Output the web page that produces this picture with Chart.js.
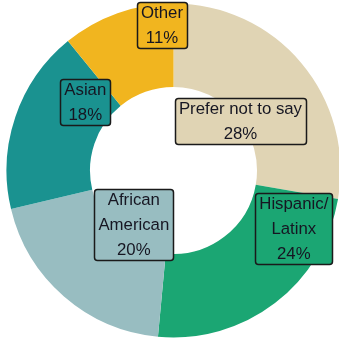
<!DOCTYPE html>
<html>
<head>
<meta charset="utf-8">
<script src="https://cdn.jsdelivr.net/npm/chart.js@4/dist/chart.umd.min.js"></script>
<style>
  html, body { margin: 0; padding: 0; background: #ffffff; overflow: hidden; }
  #wrap { position: absolute; left: 0; top: 0; width: 347px; height: 341px; }
</style>
</head>
<body>
<div id="wrap"><canvas id="c"></canvas></div>
<script>
// Survey respondents by race / ethnicity (percent)
const categories = ['Prefer not to say', 'Hispanic/Latinx', 'African American', 'Asian', 'Other'];
const categoryLines = [['Prefer not to say'], ['Hispanic/', 'Latinx'], ['African', 'American'], ['Asian'], ['Other']];
const values = [28, 24, 20, 18, 11];

const sliceColors = ['#E0D4B4', '#1BA673', '#98BDC1', '#1A9290', '#F1B51F'];

// Where each boxed label sits on its slice:
// t = fraction along the arc (start -> end), r = fraction of the outer radius
const labelAnchors = [
  { t: 0.534, r: 0.50 },
  { t: 0.187, r: 0.80 },
  { t: 0.436, r: 0.40 },
  { t: 0.80,  r: 0.67 },
  { t: 0.885, r: 0.875 }
];

const boxLabels = {
  id: 'boxLabels',
  afterDatasetsDraw(chart) {
    const ctx = chart.ctx;
    const meta = chart.getDatasetMeta(0);
    const fontSize = 16.8;
    const lineGap = 25;
    ctx.save();
    ctx.font = fontSize + 'px "Liberation Sans", Arial, sans-serif';
    ctx.textAlign = 'center';
    ctx.textBaseline = 'middle';
    meta.data.forEach((arc, i) => {
      const p = arc.getProps(['x', 'y', 'startAngle', 'endAngle', 'outerRadius'], true);
      const a = labelAnchors[i];
      const ang = p.startAngle + a.t * (p.endAngle - p.startAngle);
      const rad = a.r * p.outerRadius;
      const cx = p.x + rad * Math.cos(ang);
      const cy = p.y + rad * Math.sin(ang);
      const lines = categoryLines[i].concat([values[i] + '%']);
      const w = Math.max(...lines.map(s => ctx.measureText(s).width)) + 8;
      const h = (lines.length - 1) * lineGap + 21;
      const x0 = Math.round(cx - w / 2) + 0.5;
      const y0 = Math.round(cy - h / 2) + 0.5;
      ctx.beginPath();
      ctx.roundRect(x0, y0, Math.round(w), Math.round(h), 3);
      ctx.fillStyle = sliceColors[i];
      ctx.fill();
      ctx.lineWidth = 1.5;
      ctx.strokeStyle = '#1a1a1a';
      ctx.stroke();
      ctx.fillStyle = '#161622';
      const firstY = cy - (lines.length - 1) * lineGap / 2 + 1;
      lines.forEach((s, k) => ctx.fillText(s, cx, firstY + k * lineGap));
    });
    ctx.restore();
  }
};

new Chart(document.getElementById('c'), {
  type: 'doughnut',
  data: {
    labels: categories,
    datasets: [{
      data: values,
      backgroundColor: sliceColors,
      borderWidth: 0,
      hoverOffset: 0
    }]
  },
  options: {
    responsive: true,
    maintainAspectRatio: false,
    animation: false,
    cutout: '50%',
    layout: { padding: { left: 6.5, right: 6.5, top: 3.5, bottom: 3.5 } },
    plugins: {
      legend: { display: false },
      tooltip: { enabled: false }
    }
  },
  plugins: [boxLabels]
});
</script>
</body>
</html>
